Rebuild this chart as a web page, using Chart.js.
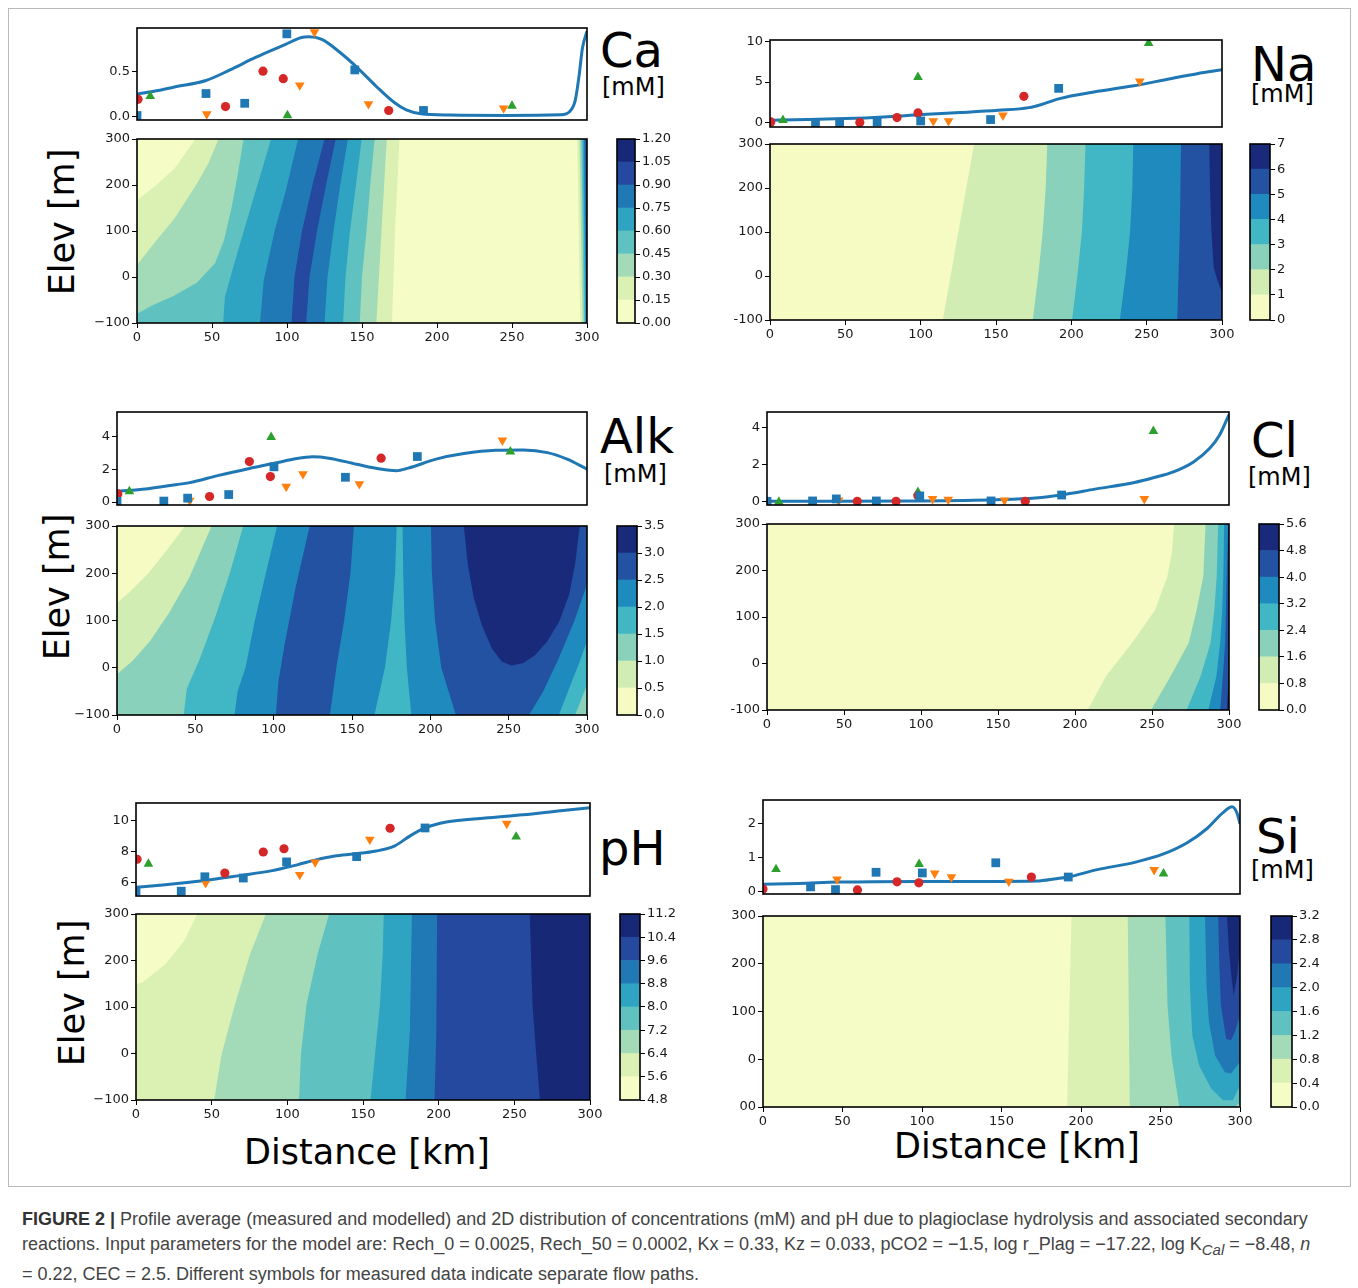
<!DOCTYPE html>
<html>
<head>
<meta charset="utf-8">
<title>Figure 2</title>
<script src="https://cdn.jsdelivr.net/npm/chart.js@4.4.1/dist/chart.umd.min.js"></script>
<style>
  body { margin: 0; background: #fff; }
  #fig { position: relative; width: 1358px; height: 1288px; overflow: hidden; font-family: "DejaVu Sans", sans-serif; color: #000; }
  #fig canvas { position: absolute; }
  .frame { position: absolute; left: 8px; top: 8px; width: 1341px; height: 1177px; border: 1px solid #b9b9b9; }
  .big { position: absolute; font-size: 48px; line-height: 48px; white-space: nowrap; }
  .unit { position: absolute; font-size: 24px; line-height: 24px; white-space: nowrap; }
  .ylab { position: absolute; width: 200px; text-align: center; font-size: 35px; line-height: 40px; transform: rotate(-90deg); white-space: nowrap; }
  .xlab { position: absolute; width: 400px; text-align: center; font-size: 35px; line-height: 40px; white-space: nowrap; }
  #caption { position: absolute; left: 22px; top: 1207px; font-family: "Liberation Sans", Arial, sans-serif; font-size: 18px; line-height: 25px; color: #444; white-space: nowrap; }
  #caption b { color: #333; }
</style>
</head>
<body>
<div id="fig">
  <div class="frame"></div>

  <div class="big" style="left:600px;top:26px">Ca</div>
  <div class="unit" style="left:602px;top:75px">[mM]</div>
  <div class="big" style="left:1251px;top:40px">Na</div>
  <div class="unit" style="left:1251px;top:82px">[mM]</div>
  <div class="big" style="left:600px;top:412px">Alk</div>
  <div class="unit" style="left:604px;top:462px">[mM]</div>
  <div class="big" style="left:1251px;top:416px">Cl</div>
  <div class="unit" style="left:1248px;top:465px">[mM]</div>
  <div class="big" style="left:599px;top:824px">pH</div>
  <div class="big" style="left:1256px;top:812px">Si</div>
  <div class="unit" style="left:1251px;top:858px">[mM]</div>

  <div class="ylab" style="left:-38px;top:202px">Elev [m]</div>
  <div class="ylab" style="left:-43px;top:567px">Elev [m]</div>
  <div class="ylab" style="left:-28px;top:973px">Elev [m]</div>
  <div class="xlab" style="left:167px;top:1132px">Distance [km]</div>
  <div class="xlab" style="left:817px;top:1126px">Distance [km]</div>

  <div id="caption"><b>FIGURE 2 |</b> Profile average (measured and modelled) and 2D distribution of concentrations (mM) and pH due to plagioclase hydrolysis and associated secondary<br>reactions. Input parameters for the model are: Rech_0 = 0.0025, Rech_50 = 0.0002, Kx = 0.33, Kz = 0.033, pCO2 = &minus;1.5, log r_Plag = &minus;17.22, log K<sub><i>Cal</i></sub> = &minus;8.48, <i>n</i><br>= 0.22, CEC = 2.5. Different symbols for measured data indicate separate flow paths.</div>
</div>

<script>
Chart.defaults.font.family = "'DejaVu Sans', sans-serif";
Chart.defaults.font.size = 13;
Chart.defaults.color = '#1a1a1a';

var C0 = '#1f77b4', C1 = '#ff7f0e', C2 = '#2ca02c', C3 = '#d62728';

//////////////////////////// Ca ////////////////////////////
var caLine = [[0,0.248],[13,0.285],[25,0.328],[46,0.40],[62,0.518],[79,0.657],[98.7,0.80],[109.7,0.88],[114.6,0.887],[123.2,0.858],[135.4,0.712],[147.7,0.53],[159.9,0.328],[172.2,0.146],[179.5,0.073],[189.3,0.029],[209,0.015],[245.6,0.011],[282.4,0.018],[288.5,0.055],[292.2,0.182],[294.6,0.438],[297,0.766],[300,0.95]];
var caSquares = [[0,0.01],[46,0.255],[71.8,0.146],[99.9,0.92],[145.2,0.518],[191,0.066]];
var caCircles = [[0.7,0.19],[59,0.11],[84,0.504],[97.5,0.42],[167.8,0.066]];
var caDown = [[46.5,0.026],[108.5,0.347],[118.3,0.94],[154.3,0.139],[244.4,0.091]];
var caUp = [[8.8,0.226],[100.3,0.011],[250,0.117]];
var caLevels = [0, 0.15, 0.3, 0.45, 0.6, 0.75, 0.9, 1.05, 1.2];
// area at or above caLevels[1], caLevels[2], ...
var caRegions = [
  [[[0,-100],[0,167],[13,200],[25,236],[39,300],[175,300],[172,100],[170,-100]], [[295.5,-100],[293.5,300],[300,300],[300,-100]]],
  [[[0,-100],[0,26],[13,80],[25,127],[40,203],[47.5,247],[54.4,300],[166.5,300],[163,100],[159.6,-100]], [[297,-100],[295,300],[300,300],[300,-100]]],
  [[[0,-100],[0,-80],[10,-62],[25,-40],[40,-12],[52,30],[58,80],[63,150],[67,220],[71,300],[158.4,300],[155.5,200],[153,100],[150,0],[148.5,-100]], [[298,-100],[296.2,300],[300,300],[300,-100]]],
  [[[57.4,-100],[58.6,-43],[64.8,29],[74.6,138],[89.4,300],[149.8,300],[146,200],[142,100],[139,0],[137.4,-100]], [[298.8,-100],[297.2,300],[300,300],[300,-100]]],
  [[[82,-100],[84.5,-7],[91.9,102],[99.3,189],[107.4,300],[140.6,300],[135.5,200],[131,100],[127,0],[125,-100]], [[299.3,-100],[298,300],[300,300],[300,-100]]],
  [[[103,-100],[105,0],[110,100],[117,200],[125,300],[132.5,300],[126,200],[120,100],[115,0],[112.8,-100]], [[299.7,-100],[299,300],[300,300],[300,-100]]]
];

//////////////////////////// Na ////////////////////////////
var naLine = [[0,0.33],[24.6,0.41],[50,0.53],[75.4,0.73],[100.8,1.02],[126.1,1.26],[151.5,1.54],[171.8,1.87],[182,2.36],[192.1,2.97],[215,3.78],[240.4,4.51],[265.7,5.41],[283.5,6.02],[300,6.5]];
var naSquares = [[30.2,0.04],[46.2,0.04],[71.1,0.12],[100,0.24],[146.4,0.41],[191.6,4.23]];
var naCircles = [[0.5,0.12],[59.6,0.04],[84.3,0.65],[98.2,1.22],[168.5,3.25]];
var naDown = [[46.2,0.1],[108.4,0.24],[118.5,0.24],[154.6,0.93],[245.4,5.08]];
var naUp = [[8.6,0.33],[98.2,5.6],[251.3,9.76]];
var naLevels = [0, 1, 2, 3, 4, 5, 6, 7];
var naRegions = [
  [[[114.7,-100],[125,100],[135.5,300],[300,300],[300,-100]]],
  [[[174.4,-100],[178,0],[181,100],[183,200],[184,300],[300,300],[300,-100]]],
  [[[200.5,-100],[204,0],[207,100],[208.5,200],[209.4,300],[300,300],[300,-100]]],
  [[[232.2,-100],[236,0],[239,100],[240.5,200],[241.1,300],[300,300],[300,-100]]],
  [[[270.3,-100],[272,100],[272.8,300],[300,300],[300,-100]]],
  [[[291.6,300],[292,200],[293,100],[294.5,20],[297,-10],[300,-38],[300,300]]]
];

//////////////////////////// Alk ////////////////////////////
var alkLine = [[0,0.67],[13.4,0.75],[33.7,1.01],[46.4,1.19],[64.2,1.62],[84.5,2.06],[99.7,2.36],[114.9,2.67],[125,2.77],[135.2,2.69],[152.9,2.32],[168.1,2.02],[178.3,1.92],[185.9,2.08],[203.7,2.63],[221.4,2.97],[241.7,3.17],[259.4,3.19],[274.7,3.03],[287.3,2.63],[300,2.02]];
var alkSquares = [[0,0.04],[29.9,0.06],[45.1,0.24],[71.3,0.46],[100.2,2.16],[145.8,1.52],[191.7,2.79]];
var alkCircles = [[0.5,0.5],[59.1,0.34],[84.5,2.48],[97.9,1.56],[168.6,2.69]];
var alkDown = [[46.4,0.1],[108,0.95],[118.7,1.72],[154.7,1.11],[246,3.78]];
var alkUp = [[7.9,0.65],[98.4,3.98],[251.1,3.09]];
var alkLevels = [0, 0.5, 1.0, 1.5, 2.0, 2.5, 3.0, 3.5];
var alkRegions = [
  [[[0,-100],[0,137],[8,160],[20,200],[32,250],[43.4,300],[300,300],[300,-100]]],
  [[[0,-100],[0,-14],[10,15],[21,56],[33,115],[46,190],[60.4,300],[300,300],[300,-100]]],
  [[[42.6,-100],[44.5,-45],[53,20],[63,110],[72,200],[80.6,300],[300,300],[300,-36],[296,-70],[292.4,-100]]],
  [[[75,-100],[77,-50],[82,0],[88,100],[95,200],[102.2,300],[178.5,300],[177.5,200],[175,100],[171,0],[164.3,-100]],
   [[187.9,-100],[185,0],[183.5,100],[182.7,200],[182.3,300],[300,300],[300,56],[295,10],[289,-40],[282,-100]]],
  [[[101.4,-100],[103,-30],[107,50],[114,170],[123,300],[151.2,300],[149,200],[145,100],[140,0],[135.9,-100]],
   [[216.3,-100],[207,0],[203,100],[201,200],[200.4,300],[300,300],[300,176],[292,100],[282,20],[272,-50],[263,-100]]],
  [[[221.4,300],[223.9,219],[227.7,148],[232.8,91],[239.1,42],[245.5,13],[251.8,5],[259.4,10],[267,27],[274.7,56],[282.3,98],[288.6,155],[292.4,219],[295.4,300]]]
];

//////////////////////////// Cl ////////////////////////////
var clLine = [[0,0],[45.8,0],[97.2,0.02],[148.6,0.09],[174.3,0.18],[192.3,0.36],[212.9,0.66],[238.6,1.02],[251.4,1.29],[264.3,1.61],[277.2,2.15],[287.5,2.87],[293.9,3.59],[300,4.7]];
var clSquares = [[0,0],[29.6,0.02],[45,0.13],[71,0.02],[99.2,0.29],[145.5,0.02],[191.3,0.34]];
var clCircles = [[0,0],[58.6,0],[83.8,0],[98,0.3],[167.7,0]];
var clDown = [[46.5,0.05],[107.5,0.13],[117.7,0.09],[154.2,0.05],[245,0.13]];
var clUp = [[7.7,-0.03],[98,0.5],[250.9,3.8]];
var clLevels = [0, 0.8, 1.6, 2.4, 3.2, 4.0, 4.8, 5.6];
var clRegions = [
  [[[208.2,-100],[220,-28],[237,44],[252,115],[260,187],[263,240],[264.3,300],[300,300],[300,-100]]],
  [[[249.4,-100],[262,-28],[273.8,44],[279,115],[283.3,187],[284.8,300],[300,300],[300,-100]]],
  [[[272.5,-100],[281.5,-28],[288,44],[290.5,115],[292,187],[293,300],[300,300],[300,-100]]],
  [[[286.6,-100],[291.8,-28],[294.3,44],[295.6,115],[296.3,187],[296.9,300],[300,300],[300,-100]]],
  [[[294.3,-100],[296,-28],[297.5,44],[298.5,187],[299.5,300],[300,300],[300,-100]]],
  [[[298.6,-100],[299.4,-50],[300,-20],[300,-100]]]
];

//////////////////////////// pH ////////////////////////////
var phLine = [[0,5.68],[19.4,5.85],[44.3,6.11],[69.2,6.45],[89.1,6.74],[106.5,7.13],[118.9,7.45],[131.3,7.70],[143.8,7.83],[158.7,8.02],[171.1,8.36],[181.1,9.0],[191,9.51],[205,9.89],[230.8,10.15],[255.7,10.36],[280.6,10.62],[300,10.81]];
var phSquares = [[0,5.43],[29.9,5.43],[45.5,6.36],[70.9,6.28],[99.5,7.32],[145.8,7.66],[191,9.51]];
var phCircles = [[0.7,7.49],[58.7,6.6],[84.1,7.96],[97.8,8.17],[167.9,9.49]];
var phDown = [[46,5.96],[108.2,6.49],[118.4,7.3],[154.5,8.77],[245,9.79]];
var phUp = [[8.2,7.19],[251.2,8.94]];
var phLevels = [4.8, 5.6, 6.4, 7.2, 8.0, 8.8, 9.6, 10.4, 11.2];
var phRegions = [
  [[[0,-100],[0,149],[4.5,153],[19.4,192],[31.8,242],[40.5,300],[300,300],[300,-100]]],
  [[[51.7,-100],[54,-52],[56.7,0],[65.4,106],[75.4,214],[85.8,300],[300,300],[300,-100]]],
  [[[107.7,-100],[109,0],[112.7,106],[120,214],[127.6,300],[300,300],[300,-100]]],
  [[[155,-100],[158,0],[161.2,106],[163,214],[163.7,300],[300,300],[300,-100]]],
  [[[178.1,-100],[181,50],[182.3,300],[300,300],[300,-100]]],
  [[[197.3,-100],[198.5,50],[199,300],[300,300],[300,-100]]],
  [[[266.9,-100],[264.4,0],[262,106],[260.2,300],[300,300],[300,-100]]]
];

//////////////////////////// Si ////////////////////////////
var siLine = [[0,0.22],[22.4,0.24],[47.4,0.28],[97.3,0.30],[147.1,0.30],[172.1,0.31],[184.5,0.38],[192,0.43],[209.5,0.64],[234.4,0.87],[251.9,1.11],[266.8,1.44],[279.3,1.86],[289.3,2.33],[295,2.50],[298,2.33],[300,2.0]];
var siSquares = [[29.9,0.14],[45.6,0.06],[71.1,0.57],[100.2,0.55],[146.4,0.85],[192,0.43]];
var siCircles = [[0,0.08],[59.4,0.05],[84.3,0.29],[98,0.26],[168.8,0.43]];
var siDown = [[46.6,0.36],[108,0.54],[118.5,0.43],[154.6,0.30],[246,0.64]];
var siUp = [[8.2,0.66],[98.2,0.81],[251.9,0.53]];
var siLevels = [0, 0.4, 0.8, 1.2, 1.6, 2.0, 2.4, 2.8, 3.2];
var siRegions = [
  [[[191.3,-100],[194,300],[300,300],[300,-100]]],
  [[[230.7,-100],[229.4,300],[300,300],[300,-100]]],
  [[[261.8,-100],[259.4,-48],[256.9,8],[254.4,113],[253.1,300],[300,300],[300,-90],[297,-100]]],
  [[[268.1,300],[300,300],[300,-55],[295.5,-86],[289.3,-86],[281.8,-61],[274.3,-13],[270,50],[268.5,150]]],
  [[[278,300],[300,300],[300,-6],[294.3,-30],[290.5,-27],[284.3,8],[280.5,78],[279,150]]],
  [[[286.3,300],[300,300],[300,92],[296.8,57],[294.3,40],[291.3,43],[288,113],[287,200]]],
  [[[291.8,300],[300,300],[300,230],[298,170],[296,134],[294.3,183],[293,230]]]
];

var distTicks = [0, 50, 100, 150, 200, 250, 300];
var elevTicks = [-100, 0, 100, 200, 300];

// YlGnBu colour map
var YLGNBU = ['#ffffd9','#edf8b1','#c7e9b4','#7fcdbb','#41b6c4','#1d91c0','#225ea8','#253494','#081d58'];
function hex(h) { return [1, 3, 5].map(function (k) { return parseInt(h.substr(k, 2), 16); }); }
function ylgnbu(t) {
  var p = t * 8, i = Math.min(7, Math.floor(p)), f = p - i;
  var a = hex(YLGNBU[i]), b = hex(YLGNBU[i + 1]);
  return 'rgb(' + [0, 1, 2].map(function (k) { return Math.round(a[k] + (b[k] - a[k]) * f); }).join(',') + ')';
}
function bandColors(n) {
  var out = [];
  for (var i = 0; i < n; i++) out.push(ylgnbu((i + 0.5) / n));
  return out;
}

function pts(list) { return list.map(function (p) { return {x: p[0], y: p[1]}; }); }

function makeCanvas(left, top, w, h) {
  var c = document.createElement('canvas');
  c.width = w; c.height = h;
  c.style.left = left + 'px'; c.style.top = top + 'px';
  c.style.width = w + 'px'; c.style.height = h + 'px';
  document.getElementById('fig').appendChild(c);
  return c;
}

// black frame round the plot area
var boxBorder = {
  id: 'boxBorder',
  afterDraw: function (chart) {
    var a = chart.chartArea, ctx = chart.ctx;
    ctx.save();
    ctx.strokeStyle = '#000';
    ctx.lineWidth = 1.6;
    ctx.strokeRect(a.left, a.top, a.right - a.left, a.bottom - a.top);
    ctx.restore();
  }
};

function axisOpts(pos, min, max, ticks, fmt, size) {
  return {
    type: 'linear', position: pos, min: min, max: max,
    afterBuildTicks: function (s) { s.ticks = ticks.map(function (v) { return {value: v}; }); },
    afterFit: function (s) {
      if (s.isHorizontal()) s.height = size; else s.width = size;
      s.paddingLeft = s.paddingRight = s.paddingTop = s.paddingBottom = 0;
    },
    grid: {drawOnChartArea: false, tickLength: 5, color: '#000', lineWidth: 1},
    border: {display: false},
    ticks: {autoSkip: false, maxRotation: 0, padding: 2, color: '#1a1a1a', font: {size: 13},
      callback: function (v) { return fmt(v); }}
  };
}

function baseOptions(pad, scales) {
  return {
    responsive: false, animation: false,
    layout: {padding: pad},
    plugins: {legend: {display: false}, tooltip: {enabled: false}},
    scales: scales
  };
}

function marks(list, style, color, r, rot) {
  return {data: pts(list), pointStyle: style, pointRadius: r, pointRotation: rot,
    backgroundColor: color, borderColor: color, borderWidth: 0, order: 1};
}

// profile-averaged concentrations: model line and measured points
function profileChart(area, yMin, yMax, yTicks, fmt, line, sq, ci, dn, up) {
  var pad = {left: 4, top: 10, right: 8, bottom: 8}, yW = 50;
  var c = makeCanvas(area[0] - yW - pad.left, area[1] - pad.top,
    pad.left + yW + (area[2] - area[0]) + pad.right, pad.top + (area[3] - area[1]) + pad.bottom);
  new Chart(c, {
    type: 'scatter',
    data: {datasets: [
      marks(sq, 'rect', C0, 6.2, 0),
      marks(ci, 'circle', C3, 4.6, 0),
      marks(dn, 'triangle', C1, 5.6, 180),
      marks(up, 'triangle', C2, 5.6, 0),
      {data: pts(line), showLine: true, borderColor: C0, borderWidth: 3, pointRadius: 0,
        cubicInterpolationMode: 'monotone', order: 5}
    ]},
    options: baseOptions(pad, {
      x: {type: 'linear', min: 0, max: 300, display: false},
      y: axisOpts('left', yMin, yMax, yTicks, fmt, yW)
    }),
    plugins: [boxBorder]
  });
}

// filled contours: each level's region painted over the lower ones
function contourChart(area, levels, regions, lowLabel) {
  var pad = {left: 4, top: 10, right: 14, bottom: 4}, yW = 50, xH = 22;
  var c = makeCanvas(area[0] - yW - pad.left, area[1] - pad.top,
    pad.left + yW + (area[2] - area[0]) + pad.right, pad.top + (area[3] - area[1]) + xH + pad.bottom);
  var colors = bandColors(levels.length - 1);
  function shape(poly, color, order) {
    return {data: pts(poly), showLine: true, fill: 'shape', backgroundColor: color,
      borderColor: color, borderWidth: 0, pointRadius: 0, tension: 0, order: order};
  }
  var sets = [shape([[0,-100],[0,300],[300,300],[300,-100]], colors[0], 100)];
  regions.forEach(function (polys, k) {
    polys.forEach(function (p) { sets.push(shape(p, colors[k + 1], 99 - k)); });
  });
  new Chart(c, {
    type: 'scatter',
    data: {datasets: sets},
    options: baseOptions(pad, {
      x: axisOpts('bottom', 0, 300, distTicks, String, xH),
      y: axisOpts('left', -100, 300, elevTicks, function (v) { return v === -100 ? lowLabel : String(v); }, yW)
    }),
    plugins: [boxBorder]
  });
}

function colorbar(area, levels, fmt) {
  var pad = {left: 2, top: 10, right: 4, bottom: 10}, yW = 50;
  var c = makeCanvas(area[0] - pad.left, area[1] - pad.top,
    pad.left + (area[2] - area[0]) + yW + pad.right, pad.top + (area[3] - area[1]) + pad.bottom);
  var sets = bandColors(levels.length - 1).map(function (col, i) {
    return {data: [[levels[i], levels[i + 1]]], backgroundColor: col, borderWidth: 0,
      grouped: false, barPercentage: 1, categoryPercentage: 1};
  });
  new Chart(c, {
    type: 'bar',
    data: {labels: [''], datasets: sets},
    options: baseOptions(pad, {
      x: {display: false},
      y: axisOpts('right', levels[0], levels[levels.length - 1], levels, fmt, yW)
    }),
    plugins: [boxBorder]
  });
}

function dec(n) { return function (v) { return v.toFixed(n); }; }

profileChart([137, 28, 587, 120], -0.04, 0.985, [0, 0.5], dec(1), caLine, caSquares, caCircles, caDown, caUp);
contourChart([137, 139, 587, 323], caLevels, caRegions, '\u2212100');
colorbar([617, 139, 635, 323], caLevels, dec(2));

profileChart([770, 40, 1222, 127], -0.5, 10.15, [0, 5, 10], String, naLine, naSquares, naCircles, naDown, naUp);
contourChart([770, 144, 1222, 320], naLevels, naRegions, '-100');
colorbar([1250, 144, 1270, 320], naLevels, String);

profileChart([117, 412, 587, 505], -0.18, 5.52, [0, 2, 4], String, alkLine, alkSquares, alkCircles, alkDown, alkUp);
contourChart([117, 526, 587, 715], alkLevels, alkRegions, '\u2212100');
colorbar([617, 526, 637, 715], alkLevels, dec(1));

profileChart([767, 412, 1229, 505], -0.2, 4.84, [0, 2, 4], String, clLine, clSquares, clCircles, clDown, clUp);
contourChart([767, 524, 1229, 710], clLevels, clRegions, '-100');
colorbar([1259, 524, 1279, 710], clLevels, dec(1));

profileChart([136, 803, 590, 896], 5.12, 11.12, [6, 8, 10], String, phLine, phSquares, phCircles, phDown, phUp);
contourChart([136, 914, 590, 1100], phLevels, phRegions, '\u2212100');
colorbar([620, 914, 640, 1100], phLevels, dec(1));

profileChart([763, 800, 1240, 894], -0.07, 2.7, [0, 1, 2], String, siLine, siSquares, siCircles, siDown, siUp);
contourChart([763, 916, 1240, 1107], siLevels, siRegions, '00');
colorbar([1271, 916, 1292, 1107], siLevels, dec(1));
</script>
</body>
</html>
